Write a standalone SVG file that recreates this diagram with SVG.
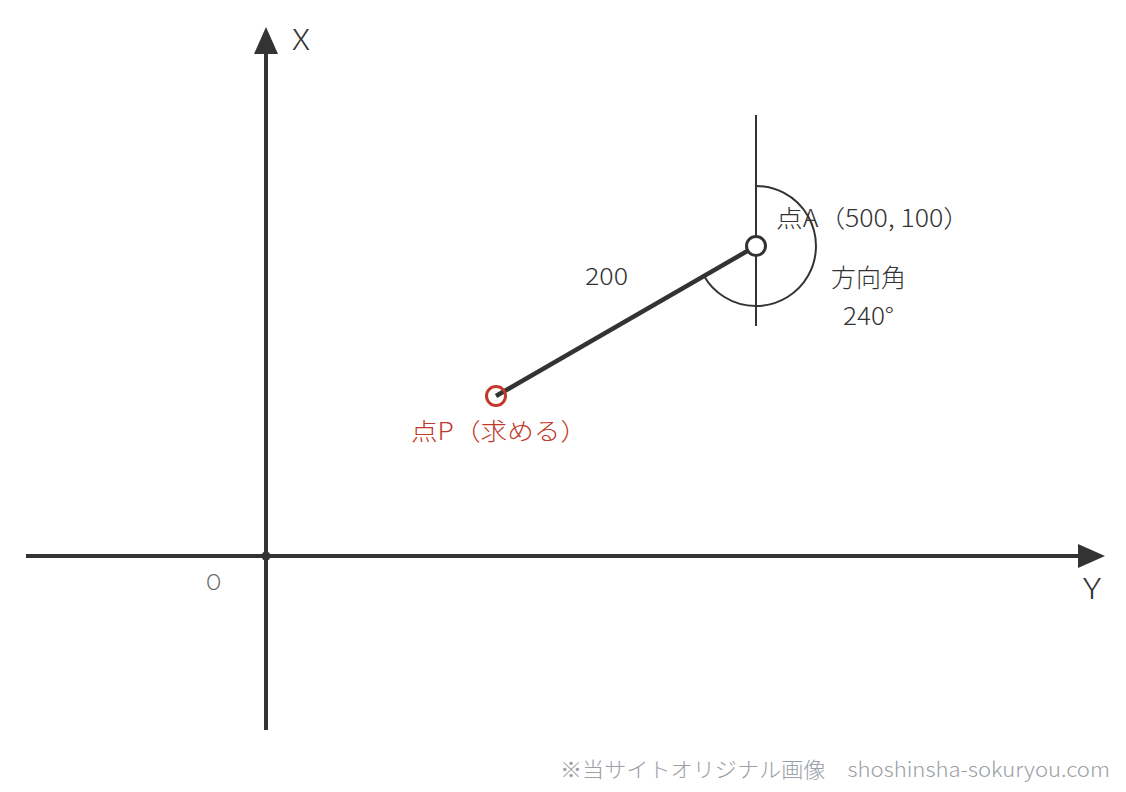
<svg xmlns="http://www.w3.org/2000/svg" width="1126" height="792" viewBox="0 0 1126 792">
<style>
text{font-family:"Noto Sans CJK JP","Noto Sans",sans-serif;fill:#333;font-weight:300}
.axis{stroke:#333;stroke-width:4;fill:none}
.thin{stroke:#333;stroke-width:2;fill:none}
.red{fill:#c0392b}
.grey{fill:#9aa0a6}
</style>
<rect width="1126" height="792" fill="#fff"/>
<g id="axes">
<line class="axis" x1="266" y1="50" x2="266" y2="730"/>
<polygon points="266,27 254,54 278,54" fill="#333"/>
<line class="axis" x1="26" y1="556" x2="1080" y2="556"/>
<polygon points="1105,556 1078,544 1078,568" fill="#333"/>
<circle cx="266" cy="556" r="4.5" fill="#333"/>
<text x="292" y="50" font-size="28" textLength="18" lengthAdjust="spacingAndGlyphs">X</text>
<text x="1083" y="599" font-size="28" textLength="18" lengthAdjust="spacingAndGlyphs">Y</text>
<text x="206" y="590" font-size="21" style="fill:#666">O</text>
</g>
<g id="connectors">
<line class="thin" x1="756" y1="115" x2="756" y2="326"/>
<path class="thin" d="M756,186 A60,60 0 1 1 704,276"/>
<line stroke="#333" stroke-width="4.5" x1="756" y1="246" x2="496" y2="396"/>
</g>
<g id="pointA">
<circle cx="756" cy="246" r="9.5" fill="#fff" stroke="#333" stroke-width="3"/>
<text x="776" y="227" font-size="24" textLength="194" lengthAdjust="spacingAndGlyphs">点A（500, 100）</text>
</g>
<g id="angle">
<text x="831" y="287" font-size="25" textLength="75" lengthAdjust="spacingAndGlyphs">方向角</text>
<text x="843" y="325" font-size="24" textLength="51" lengthAdjust="spacingAndGlyphs">240°</text>
</g>
<g id="distance">
<text x="585" y="285" font-size="24" textLength="43" lengthAdjust="spacingAndGlyphs">200</text>
</g>
<g id="pointP">
<circle cx="496" cy="396" r="9.5" fill="none" stroke="#c0392b" stroke-width="3"/>
<text x="411" y="440" font-size="24" class="red" textLength="176" lengthAdjust="spacingAndGlyphs">点P（求める）</text>
</g>
<g id="footer">
<text x="560" y="777" font-size="21" class="grey" textLength="550" lengthAdjust="spacingAndGlyphs">※当サイトオリジナル画像　shoshinsha-sokuryou.com</text>
</g>
</svg>
